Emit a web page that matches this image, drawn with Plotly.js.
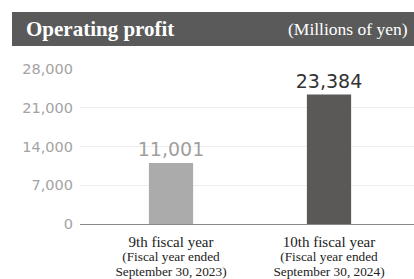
<!DOCTYPE html>
<html>
<head>
<meta charset="utf-8">
<script src="https://cdn.plot.ly/plotly-3.0.1.min.js"></script>
<style>html,body{margin:0;padding:0;background:#fff;}#chart{width:414px;height:279px;}</style>
</head>
<body>
<div id="chart"></div>
<script>
const categories = ["9th fiscal year", "10th fiscal year"];
const subLine1 = ["(Fiscal year ended", "(Fiscal year ended"];
const subLine2 = ["September 30, 2023)", "September 30, 2024)"];
const values = [11001, 23384];
const barColors = ["#ababab", "#5b5858"];
const labelColors = ["#a0a0a0", "#333333"];
const yTicks = [0, 7000, 14000, 21000, 28000];
const chartTitle = "Operating profit";
const unitLabel = "(Millions of yen)";

const xIdx = categories.map((c, i) => i);
const tickText = categories.map((c, i) =>
  '<span style="font-size:15px">' + c + '</span><br>' +
  '<span style="font-size:13.3px">' + subLine1[i] + '</span><br>' +
  '<span style="font-size:13.3px">' + subLine2[i] + '</span>');

const trace = {
  type: 'bar',
  x: xIdx,
  y: values,
  width: 0.28,
  marker: {color: barColors},
  text: values.map(v => v.toLocaleString('en-US')),
  textposition: 'outside',
  constraintext: 'none',
  cliponaxis: false,
  textfont: {family: 'DejaVu Sans, sans-serif', size: 19, color: labelColors},
  hoverinfo: 'none'
};

const layout = {
  width: 414, height: 279,
  margin: {l: 80, r: 0, t: 69, b: 55},
  paper_bgcolor: '#ffffff', plot_bgcolor: '#ffffff',
  showlegend: false,
  xaxis: {
    range: [-0.576, 1.538],
    tickvals: xIdx, ticktext: tickText,
    tickfont: {family: 'Liberation Serif, Times New Roman, serif', size: 11.5, color: '#222'},
    ticklabelstandoff: 10,
    showgrid: false, zeroline: false, showline: false, ticks: '', fixedrange: true
  },
  yaxis: {
    range: [0, 28000],
    tickvals: yTicks,
    ticktext: yTicks.map(v => v.toLocaleString('en-US')),
    tickfont: {family: 'DejaVu Sans, sans-serif', size: 14.5, color: '#a3a3a3'},
    gridcolor: '#eeeeee', gridwidth: 1,
    zeroline: true, zerolinecolor: '#8a8a8a', zerolinewidth: 1,
    showline: false, ticks: '', ticklabelstandoff: 6, fixedrange: true
  },
  shapes: [{
    type: 'rect', xref: 'paper', yref: 'paper',
    x0: -0.2036, x1: 1.01, y0: 1.148, y1: 1.368,
    fillcolor: '#5a5a5a', line: {width: 0}
  }],
  annotations: [
    {xref: 'paper', yref: 'paper', x: -0.168, y: 1.258, xanchor: 'left', yanchor: 'middle',
     text: '<b>' + chartTitle + '</b>', showarrow: false,
     font: {family: 'Liberation Serif, Times New Roman, serif', size: 21, color: '#ffffff'}},
    {xref: 'paper', yref: 'paper', x: 0.988, y: 1.258, xanchor: 'right', yanchor: 'middle',
     text: unitLabel, showarrow: false,
     font: {family: 'Liberation Serif, Times New Roman, serif', size: 17.5, color: '#ffffff'}}
  ]
};

Plotly.newPlot('chart', [trace], layout, {displayModeBar: false, staticPlot: true});
</script>
</body>
</html>
